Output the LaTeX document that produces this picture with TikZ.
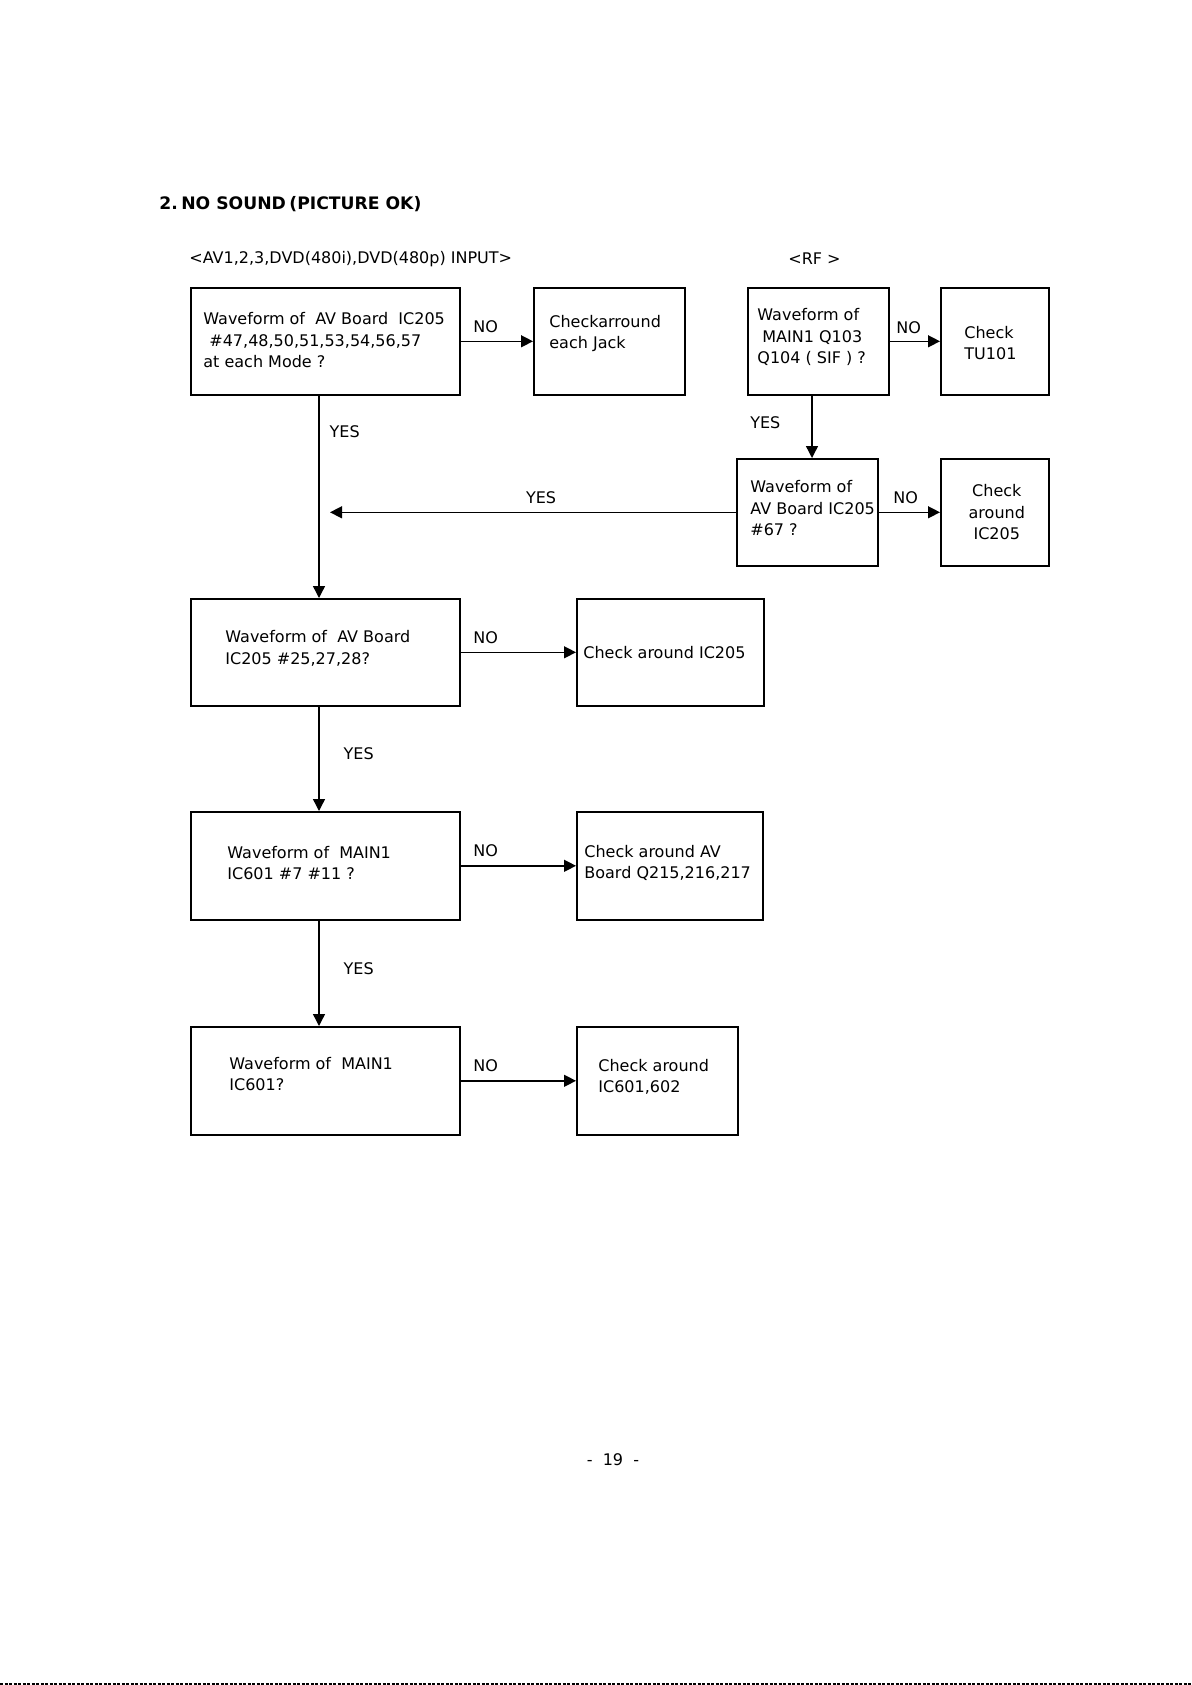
\documentclass[tikz,border=0pt]{standalone}
\usepackage{fontspec}
\setmainfont{DejaVu Sans}
\usetikzlibrary{arrows.meta,calc}
\tikzstyle{box} = [draw,line width=0.8pt,anchor=north west,inner sep=0pt,minimum height=107*0.5pt]
\tikzstyle{txt} = [anchor=west,align=left,inner sep=0pt,font=\fontsize{8}{10.7}\selectfont]
\tikzstyle{lbl} = [inner sep=0pt,font=\fontsize{8}{10.7}\selectfont]
\tikzstyle{flow} = [line width=0.7pt,-{Triangle[length=6pt,width=6pt]}]
\tikzstyle{nolbl} = [lbl,pos=0,anchor=west,xshift=6pt,yshift=7.5pt]
\tikzstyle{yeslbl} = [lbl,anchor=west]

\begin{document}
\begin{tikzpicture}[x=0.5pt,y=-0.5pt]
	\useasboundingbox (0,0) rectangle (1192,1685);
	
	% define constants
	\def \px {0.5pt}
	\coordinate (spine) at (319,0);
	\coordinate (rfspine) at (812,0);
	\coordinate (yesx) at (330,0);
	
	% Headings
	\node[lbl,anchor=west,font=\fontsize{8.6}{10}\selectfont\bfseries] (title) at (159,204) {2.\hspace{0.2em}NO SOUND\hspace{0.2em}(PICTURE OK)};
	\node[lbl,anchor=west] (avin) at (189,259) {<AV1,2,3,DVD(480i),DVD(480p) INPUT>};
	\node[lbl,anchor=west] (rfin) at (788,259) {<RF >};
	
	% Left column boxes
	\node[box,minimum width=269*\px] (av) at (190,287) {};
	\node[box,minimum width=269*\px] (wf2) at (190,598) {};
	\node[box,minimum width=269*\px,minimum height=108*\px] (wf3) at (190,811) {};
	\node[box,minimum width=269*\px,minimum height=108*\px] (wf4) at (190,1026) {};
	
	% Check boxes
	\node[box,minimum width=151*\px] (jack) at (533,287) {};
	\node[box,minimum width=187*\px] (icw) at (576,598) {};
	\node[box,minimum width=186*\px,minimum height=108*\px] (avq) at (576,811) {};
	\node[box,minimum width=161*\px,minimum height=108*\px] (ic601) at (576,1026) {};
	
	% RF boxes
	\node[box,minimum width=141*\px] (rf1) at (747,287) {};
	\node[box,minimum width=108*\px] (tu) at (940,287) {};
	\node[box,minimum width=141*\px] (rf2) at (736,458) {};
	\node[box,minimum width=108*\px] (ics) at (940,458) {};
	
	% Box texts
	\node[txt] (avT) at ($(av.west)+(13,-1)$) {Waveform of~ AV Board~ IC205\\\hspace{3pt}\#47,48,50,51,53,54,56,57\\at each Mode ?};
	\node[txt] (wf2T) at ($(wf2.west)+(35,-4)$) {Waveform of~ AV Board\\IC205 \#25,27,28?};
	\node[txt] (wf3T) at ($(wf3.west)+(37,-3)$) {Waveform of~ MAIN1\\IC601 \#7 \#11 ?};
	\node[txt] (wf4T) at ($(wf4.west)+(39,-7)$) {Waveform of~ MAIN1\\IC601?};
	\node[txt] (jackT) at ($(jack.west)+(16,-8)$) {Checkarround\\each Jack};
	\node[txt] (icwT) at ($(icw.west)+(7,0)$) {Check around IC205};
	\node[txt] (avqT) at ($(avq.west)+(8,-3)$) {Check around AV\\Board Q215,216,217};
	\node[txt] (ic601T) at ($(ic601.west)+(22,-4)$) {Check around\\IC601,602};
	\node[txt] (rf1T) at ($(rf1.west)+(10,-4)$) {Waveform of\\\hspace{2.5pt}MAIN1 Q103\\Q104 ( SIF ) ?};
	\node[txt] (tuT) at ($(tu.west)+(24,2)$) {Check\\TU101};
	\node[txt] (rf2T) at ($(rf2.west)+(14,-4)$) {Waveform of\\AV Board IC205\\\#67 ?};
	\node[txt,anchor=center,align=center] (icsT) at ($(ics.center)+(2,0)$) {Check\\around\\IC205};
	
	% YES arrows
	\draw[flow] (av.south -| spine) -- node[yeslbl,pos=0.18,xshift=5pt] (yes1) {YES} (wf2.north -| spine);
	\draw[flow] (wf2.south -| spine) -- node[yeslbl,pos=0.45,xshift=12pt] (yes2) {YES} (wf3.north -| spine);
	\draw[flow] (wf3.south -| spine) -- node[yeslbl,pos=0.46,xshift=12pt] (yes3) {YES} (wf4.north -| spine);
	\draw[flow] (rf1.south -| rfspine) -- node[lbl,anchor=east,pos=0.44,xshift=-15.5pt] (yesrf) {YES} (rf2.north -| rfspine);
	\draw[flow] (rf2.west) -- node[lbl,pos=0.48,yshift=7.5pt] (yesh) {YES} (rf2.west -| yesx);
	
	% NO arrows
	\draw[flow] (av.east) -- node[nolbl] (no1) {NO} (jack.west);
	\draw[flow] (wf2.east) -- node[nolbl] (no2) {NO} (icw.west);
	\draw[flow] (wf3.east) -- node[nolbl] (no3) {NO} (avq.west);
	\draw[flow] (wf4.east) -- node[nolbl] (no4) {NO} (ic601.west);
	\draw[flow] (rf1.east) -- node[nolbl,xshift=-3pt,yshift=-0.5pt] (norf1) {NO} (tu.west);
	\draw[flow] (rf2.east) -- node[nolbl,xshift=1pt] (norf2) {NO} (ics.west);
	
	% Page number and bottom edge
	\node[lbl] (page) at (613,1460) {-~ 19~ -};
	\draw[line width=1pt,dash pattern=on 1.5pt off 0.75pt] (0,1684) -- (1192,1684);
\end{tikzpicture}
\end{document}
